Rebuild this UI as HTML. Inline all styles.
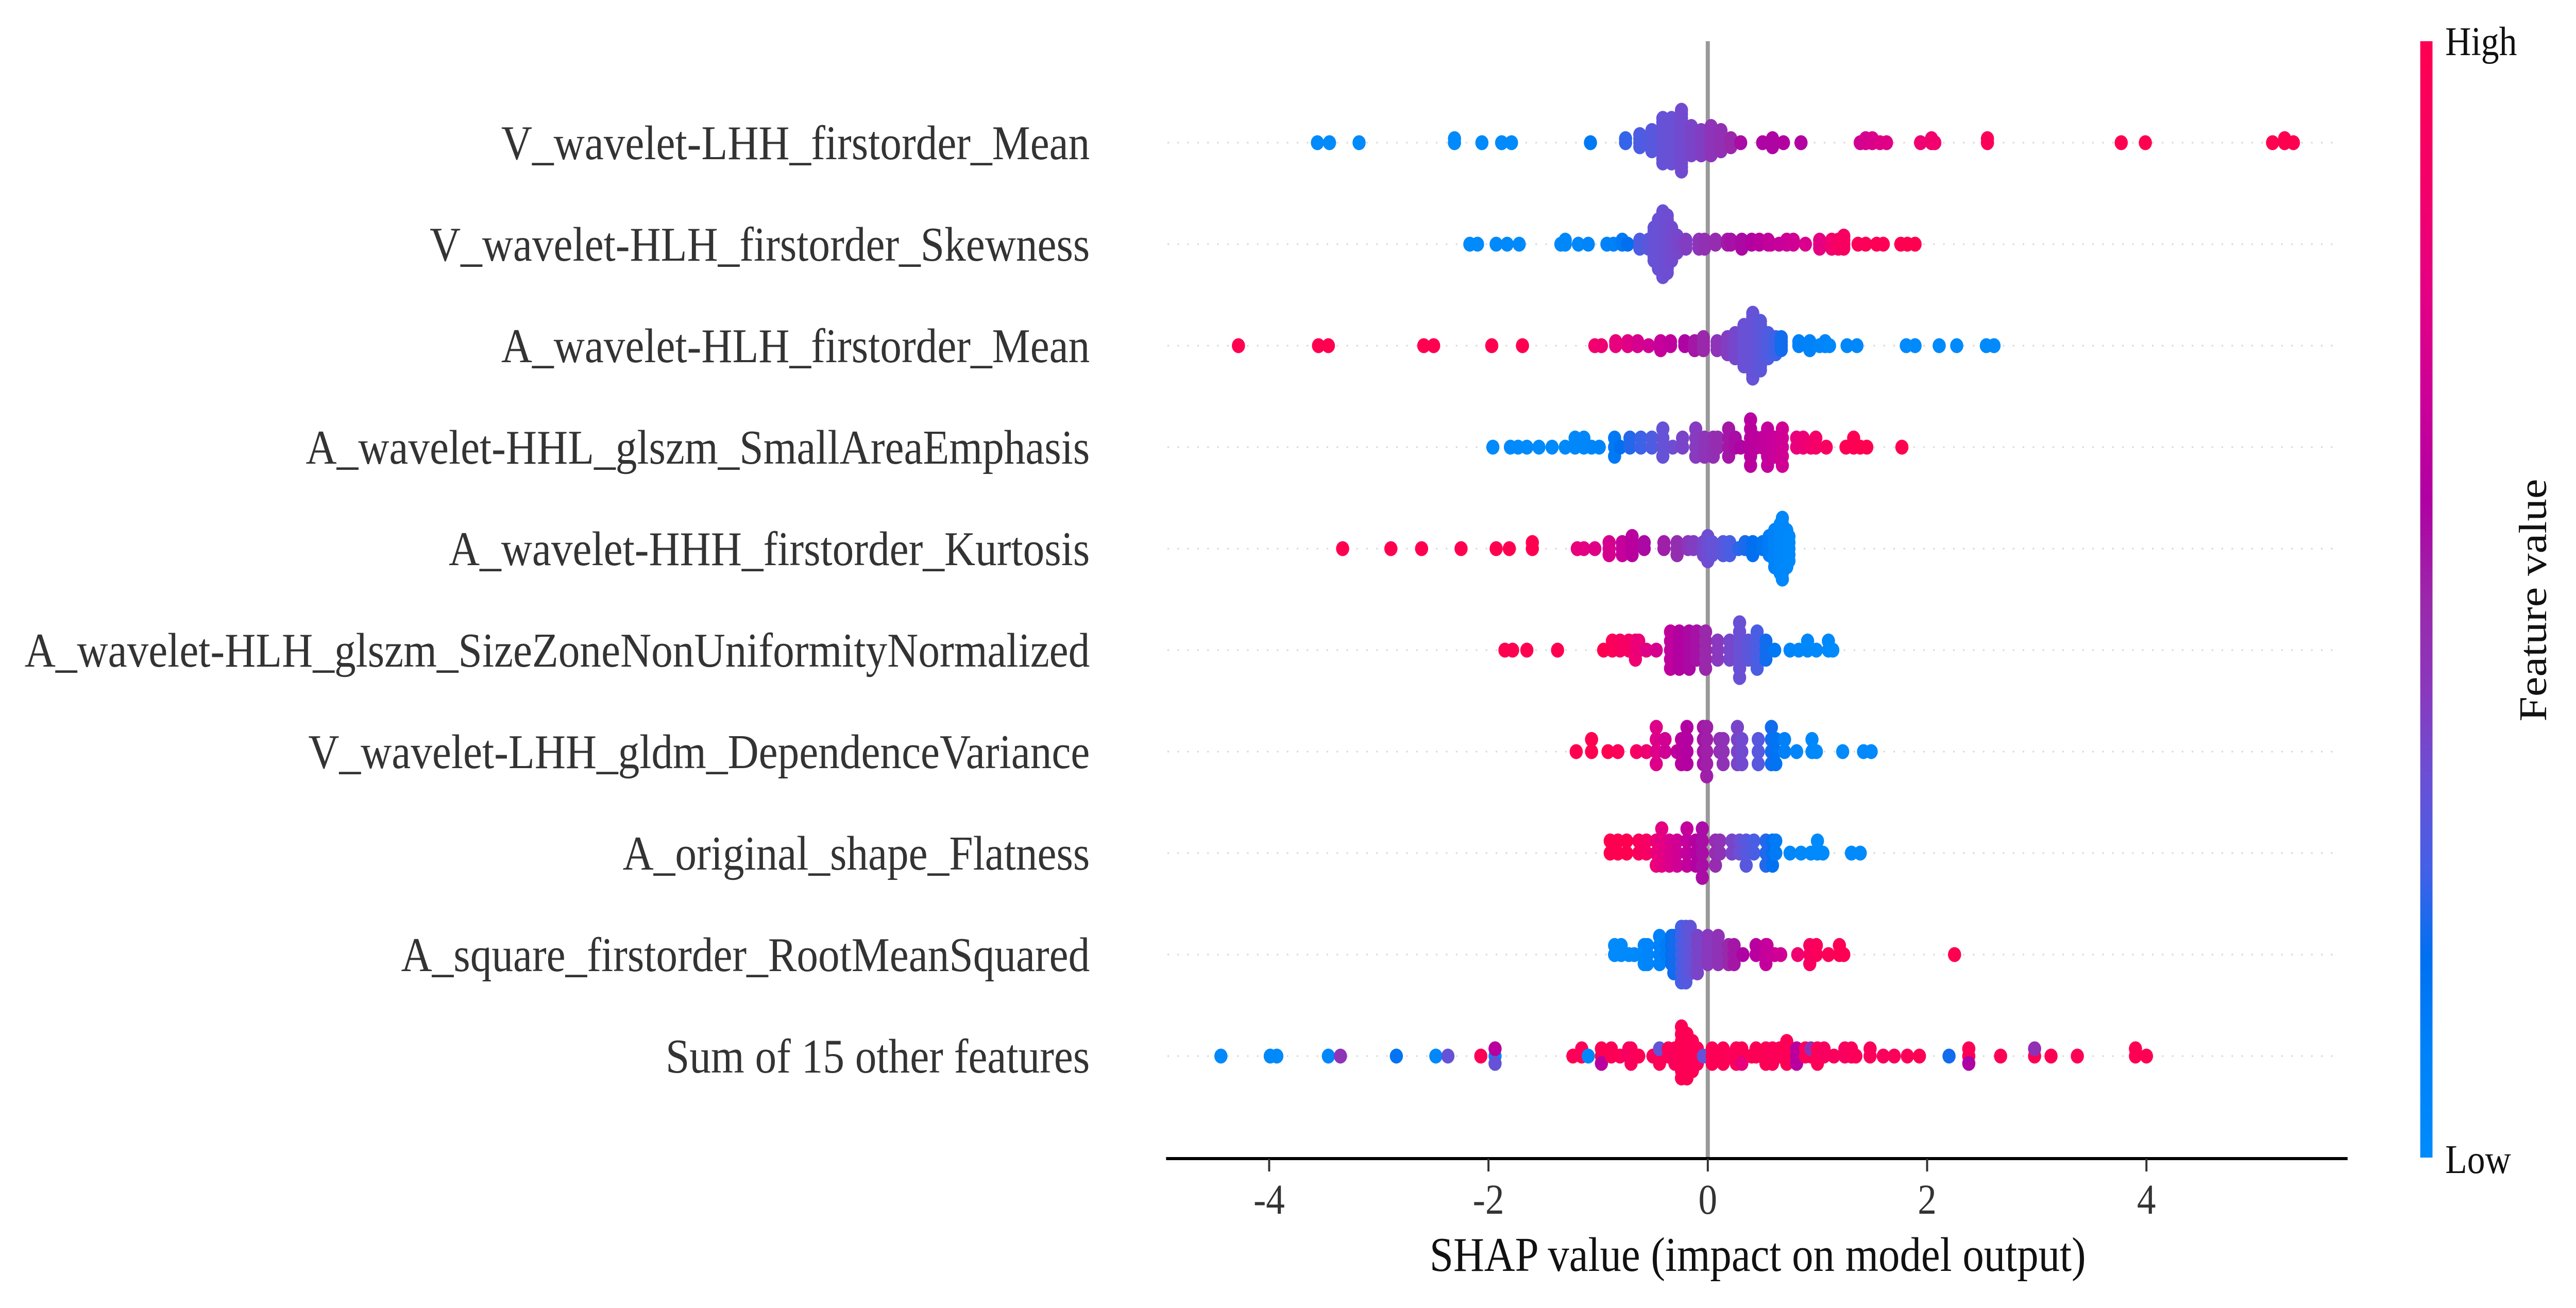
<!DOCTYPE html>
<html lang="en">
<head>
<meta charset="utf-8">
<title>SHAP beeswarm summary plot</title>
<style>
html,body{margin:0;padding:0;background:#fff;width:100%;height:100%;overflow:hidden;}
svg{display:block;position:absolute;left:0;top:0;width:100vw;height:100vh;font-family:"Liberation Serif","Times New Roman",serif;}
</style>
</head>
<body>
<svg id="chart" xmlns="http://www.w3.org/2000/svg" viewBox="0 0 5673 2539" preserveAspectRatio="none">
  <defs>
    <linearGradient id="cbarGrad" x1="0" y1="1" x2="0" y2="0"></linearGradient>
  </defs>
  <rect x="0" y="0" width="5673" height="2539" fill="#ffffff"></rect>
  <g id="rowLines"></g>
  <line x1="3761" y1="80" x2="3761" y2="2249" stroke="#999999" stroke-width="9"></line>
  <g id="dots"></g>
  <g id="rowLabels"></g>
  <line x1="2568" y1="2249" x2="5170" y2="2249" stroke="#000000" stroke-width="6"></line>
  <g id="xTicks"></g>
  <text x="3871" y="2467" font-size="94" text-anchor="middle" fill="#111111">SHAP value (impact on model output)</text>
  <rect x="5330" y="80" width="27" height="2167" fill="url(#cbarGrad)"></rect>
  <text x="5385" y="107" font-size="79" fill="#111111">High</text>
  <text x="5385" y="2277" font-size="79" fill="#111111">Low</text>
  <text x="0" y="0" font-size="87" text-anchor="middle" fill="#111111" transform="translate(5607 1165) rotate(-90)">Feature value</text>
</svg>
<script>
// Chart data: one SHAP value / feature value / sample count per swarm column
const featureNames = [
  "V_wavelet-LHH_firstorder_Mean",
  "V_wavelet-HLH_firstorder_Skewness",
  "A_wavelet-HLH_firstorder_Mean",
  "A_wavelet-HHL_glszm_SmallAreaEmphasis",
  "A_wavelet-HHH_firstorder_Kurtosis",
  "A_wavelet-HLH_glszm_SizeZoneNonUniformityNormalized",
  "V_wavelet-LHH_gldm_DependenceVariance",
  "A_original_shape_Flatness",
  "A_square_firstorder_RootMeanSquared",
  "Sum of 15 other features"
];
const xTickValues = [-4, -2, 0, 2, 4];
const xTickLabels = ["-4", "-2", "0", "2", "4"];

const r1Shap  = [-3.56,-3.45,-3.18,-2.31,-2.06,-1.88,-1.79,-1.07,-.75,-.62,-.51,-.41,-.33,-.24,-.15,-.06,.03,.12,.21,.30,.50,.59,.69,.85,1.39,1.44,1.50,1.57,1.63,1.94,2.04,2.07,2.55,3.77,3.99,5.15,5.26,5.34];
const r1Feat  = [.01,.01,.01,.01,.01,.01,.01,.14,.24,.28,.30,.33,.34,.36,.38,.40,.44,.46,.50,.56,.58,.58,.60,.60,.70,.72,.74,.76,.76,.84,.86,.86,.96,1,1,1,1,1];
const r1Count = [1,1,1,2,1,1,1,1,2,4,6,12,12,16,8,7,8,6,3,1,1,3,1,1,1,2,2,1,1,1,2,1,2,1,1,1,2,1];

const r2Shap  = [-2.17,-2.10,-1.93,-1.83,-1.72,-1.34,-1.30,-1.18,-1.09,-.92,-.86,-.78,-.73,-.62,-.54,-.49,-.45,-.41,-.37,-.33,-.28,-.25,-.20,-.08,-.03,.07,.18,.21,.31,.40,.47,.55,.575,.65,.72,.78,.89,1.02,1.13,1.19,1.24,1.37,1.44,1.54,1.60,1.76,1.82,1.89];
const r2Feat  = [.01,.01,.02,.02,.02,.02,.03,.04,.05,.08,.10,.14,.18,.28,.31,.33,.34,.34,.35,.36,.37,.38,.40,.44,.46,.48,.53,.55,.57,.60,.62,.64,.65,.66,.68,.70,.73,.78,.86,.90,.92,.96,.97,.98,.98,1,1,1];
const r2Count = [1,1,1,1,1,1,2,1,1,1,1,2,1,3,3,9,13,17,15,9,5,1,3,3,3,2,2,2,3,2,2,2,1,1,2,2,1,3,3,3,4,1,1,1,1,1,1,1];

const r3Shap  = [-4.28,-3.55,-3.46,-2.59,-2.50,-1.97,-1.69,-1.03,-.97,-.84,-.73,-.64,-.54,-.43,-.34,-.21,-.12,-.04,.085,.18,.25,.33,.41,.48,.55,.62,.67,.83,.93,1.02,1.07,1.11,1.27,1.36,1.81,1.89,2.11,2.27,2.54,2.61];
const r3Feat  = [1,1,1,1,1,1,1,.86,.84,.80,.76,.72,.70,.66,.64,.58,.54,.50,.44,.40,.37,.34,.33,.31,.28,.25,.20,.10,.08,.05,.05,.04,.03,.03,.01,.01,.01,.01,.01,.01];
const r3Count = [1,1,1,1,1,1,1,1,1,2,2,2,1,3,2,2,3,4,3,5,7,11,17,13,7,5,4,2,3,1,2,1,1,1,1,1,1,1,1,1];

const r4Shap  = [-1.96,-1.80,-1.73,-1.65,-1.54,-1.42,-1.30,-1.21,-1.13,-1.06,-.99,-.85,-.80,-.71,-.61,-.51,-.41,-.32,-.23,-.11,-.03,.05,.09,.19,.25,.30,.39,.44,.50,.545,.61,.68,.81,.87,.94,.985,1.08,1.26,1.33,1.39,1.45,1.77];
const r4Feat  = [.01,.01,.01,.01,.01,.02,.02,.03,.04,.05,.06,.14,.18,.22,.25,.28,.33,.35,.38,.41,.44,.46,.48,.54,.56,.58,.62,.63,.64,.65,.67,.70,.80,.83,.86,.88,.92,.98,.98,1,1,1];
const r4Count = [1,1,1,1,1,1,1,2,2,1,1,3,1,2,2,2,4,1,2,4,3,3,2,4,2,1,6,2,2,5,3,5,2,2,1,2,1,1,2,1,1,1];

const r5Shap  = [-3.33,-2.89,-2.61,-2.25,-1.93,-1.81,-1.60,-1.19,-1.13,-1.03,-.90,-.78,-.69,-.58,-.40,-.28,-.18,-.13,-.04,0,.04,.14,.20,.28,.34,.41,.50,.56,.61,.66,.68,.72,.74];
const r5Feat  = [1,1,1,1,1,1,1,.80,.78,.76,.72,.66,.62,.57,.52,.47,.43,.40,.37,.35,.33,.30,.27,.23,.21,.18,.15,.12,.08,.05,.04,.03,.02];
const r5Count = [1,1,1,1,1,1,2,1,1,1,3,3,4,2,2,3,2,2,3,5,3,3,3,1,2,3,2,4,7,9,11,7,5];

const r6Shap  = [-1.85,-1.78,-1.65,-1.37,-.95,-.87,-.80,-.72,-.66,-.63,-.56,-.47,-.34,-.26,-.17,-.10,-.02,.09,.20,.29,.37,.45,.53,.61,.75,.83,.91,.99,1.10,1.14];
const r6Feat  = [1,1,1,1,1,.97,.92,.90,.85,.82,.76,.72,.64,.60,.57,.55,.50,.42,.37,.34,.31,.27,.20,.14,.05,.04,.03,.02,.02,.01];
const r6Count = [1,1,1,1,1,2,2,2,3,2,1,1,5,5,5,4,5,3,3,7,3,5,3,1,1,1,2,1,2,1];

const r7Shap  = [-1.20,-1.06,-.91,-.82,-.65,-.56,-.47,-.39,-.28,-.24,-.19,-.04,-.01,.11,.14,.27,.31,.46,.58,.62,.70,.81,.95,.99,1.23,1.42,1.49];
const r7Feat  = [1,1,1,.97,.90,.85,.75,.70,.64,.62,.60,.55,.52,.46,.45,.38,.36,.30,.20,.16,.10,.05,.03,.02,.01,.01,.01];
const r7Count = [1,2,1,1,1,1,4,2,1,3,4,4,5,2,3,4,3,3,4,3,2,1,2,1,1,1,1];

const r8Shap  = [-.89,-.82,-.74,-.63,-.56,-.47,-.42,-.35,-.28,-.19,-.11,-.05,.07,.11,.22,.29,.35,.42,.53,.59,.62,.75,.85,.94,1.0,1.05,1.31,1.39];
const r8Feat  = [1,1,1,.94,.90,.82,.78,.74,.70,.65,.60,.56,.48,.45,.38,.34,.30,.27,.22,.17,.13,.03,.02,.02,.01,.01,.01,.01];
const r8Count = [2,2,2,2,2,3,4,3,3,4,3,5,3,2,2,2,3,2,3,3,2,1,1,1,2,1,1,1];

const r9Shap  = [-.85,-.79,-.72,-.67,-.58,-.55,-.44,-.38,-.33,-.31,-.24,-.20,-.16,-.095,0,.095,.19,.24,.32,.44,.53,.54,.61,.665,.82,.93,.99,1.10,1.20,1.24,2.25];
const r9Feat  = [.01,.01,.02,.02,.04,.05,.09,.12,.18,.20,.26,.29,.32,.38,.42,.45,.50,.54,.58,.62,.65,.66,.68,.70,.85,.92,.95,.97,.98,.99,1];
const r9Count = [2,2,1,1,3,3,4,2,4,5,7,7,6,5,4,4,3,3,1,2,3,2,1,1,1,3,2,1,2,1,1];

const r10Shap  = [-4.44,-3.99,-3.93,-3.46,-3.35,-2.84,-2.48,-2.37,-2.07,-1.94,-1.94,-1.94,-1.23,-1.15,-1.09,-.97,-.97,-.88,-.80,-.72,-.70,-.63,-.50,-.44,-.44,-.44,-.36,-.30,-.24,-.19,-.14,-.095,-.04,.04,.14,.21,.26,.31,.31,.40,.44,.53,.59,.655,.72,.81,.89,.94,.94,1.0,1.06,1.15,1.25,1.31,1.35,1.48,1.60,1.70,1.82,1.93,2.20,2.38,2.38,2.67,2.98,2.98,3.13,3.37,3.90,4.00];
const r10Feat  = [.02,.02,.02,.03,.44,.16,.03,.33,.98,.03,.62,.33,.98,.97,.03,.99,.62,.98,.97,.86,.95,.98,.96,.97,.32,.97,.96,.95,.98,.99,.98,.97,.33,.98,.98,.97,.96,.98,.80,.97,.98,.98,.96,.98,.98,.62,.95,.96,.46,.97,.92,.94,.92,.95,.96,.95,.94,.95,.96,.99,.20,.98,.58,.98,.99,.46,.99,.98,.99,.99];
const r10Count = [1,1,1,1,1,1,1,1,1,1,1,1,1,2,1,2,1,2,1,2,3,1,1,1,1,1,2,3,8,7,5,3,1,3,3,1,3,2,1,1,2,3,3,2,4,3,2,1,1,3,2,1,2,2,1,2,1,1,1,1,1,2,1,1,1,1,1,1,2,1];

const rowShaps  = [r1Shap, r2Shap, r3Shap, r4Shap, r5Shap, r6Shap, r7Shap, r8Shap, r9Shap, r10Shap];
const rowFeats  = [r1Feat, r2Feat, r3Feat, r4Feat, r5Feat, r6Feat, r7Feat, r8Feat, r9Feat, r10Feat];
const rowCounts = [r1Count, r2Count, r3Count, r4Count, r5Count, r6Count, r7Count, r8Count, r9Count, r10Count];

// Colour scale: feature value to colour
const cmapStops  = [0, .10, .18, .26, .34, .42, .50, .59, .68, .78, .88, 1];
const cmapColors = [[0,139,251],[0,129,248],[0,112,240],[69,96,230],[106,80,213],[138,56,189],[154,40,170],[176,0,162],[204,0,152],[229,0,130],[245,0,104],[255,0,81]];

const SVG_NS = "http://www.w3.org/2000/svg";

function xScale(value) { return 3761 + value * 241.5; }
function rowY(index) { return 277 + index * 197; }
function colorFor(f) {
  const v = Math.max(0, Math.min(1, f));
  let k = 0;
  while (k < cmapStops.length - 2 && v > cmapStops[k + 1]) k++;
  const t = (v - cmapStops[k]) / (cmapStops[k + 1] - cmapStops[k]);
  const a = cmapColors[k], b = cmapColors[k + 1];
  return "rgb(" + Math.round(a[0] + (b[0] - a[0]) * t) + "," + Math.round(a[1] + (b[1] - a[1]) * t) + "," + Math.round(a[2] + (b[2] - a[2]) * t) + ")";
}

// Colorbar gradient
const grad = document.getElementById("cbarGrad");
cmapStops.forEach(function (s) {
  const stop = document.createElementNS(SVG_NS, "stop");
  stop.setAttribute("offset", s);
  stop.setAttribute("stop-color", colorFor(s));
  grad.appendChild(stop);
});

// Row guides and feature labels
const linesGroup = document.getElementById("rowLines");
const labelsGroup = document.getElementById("rowLabels");
featureNames.forEach(function (name, i) {
  const guide = document.createElementNS(SVG_NS, "line");
  
  
  guide.setAttribute("x1", 2571);
  guide.setAttribute("x2", 5150);
  guide.setAttribute("y1", rowY(i));
  guide.setAttribute("y2", rowY(i));
  guide.setAttribute("stroke", "#d6d6d6");
  guide.setAttribute("stroke-width", 3);
  guide.setAttribute("stroke-dasharray", "3.5 18.4");
  linesGroup.appendChild(guide);

  const label = document.createElementNS(SVG_NS, "text");
  
  
  label.setAttribute("x", 2400);
  label.setAttribute("y", rowY(i) + 32);
  label.setAttribute("text-anchor", "end");
  label.setAttribute("font-size", 94.5);
  label.setAttribute("fill", "#333333");
  label.textContent = name;
  labelsGroup.appendChild(label);
});

// Swarm: samples sharing a SHAP value stack alternately up and down the row
const dotsGroup = document.getElementById("dots");
rowShaps.forEach(function (shaps, r) {
  const layers = new Map();
  const pts = [];
  let maxUp = 0;
  shaps.forEach(function (s, i) {
    const n = rowCounts[r][i] === undefined ? 1 : rowCounts[r][i];
    const f = rowFeats[r][i] === undefined ? 0.5 : rowFeats[r][i];
    for (let c = 0; c < n; c++) {
      const layer = layers.get(s) || 0;
      const level = Math.ceil(layer / 2) * ((layer % 2) * 2 - 1);
      layers.set(s, layer + 1);
      if (level > maxUp) maxUp = level;
      pts.push({ s: s, f: f, level: level });
    }
  });
  const step = 70.9 / (maxUp + 1);
  pts.forEach(function (p) {
    const dot = document.createElementNS(SVG_NS, "circle");
    
    
    dot.setAttribute("cx", xScale(p.s));
    dot.setAttribute("cy", rowY(r) - p.level * step);
    dot.setAttribute("r", 14.5);
    dot.setAttribute("fill", colorFor(p.f));
    dotsGroup.appendChild(dot);
  });
});

// X axis ticks
const ticksGroup = document.getElementById("xTicks");
xTickValues.forEach(function (v, i) {
  const tick = document.createElementNS(SVG_NS, "line");
  
  
  tick.setAttribute("x1", xScale(v));
  tick.setAttribute("x2", xScale(v));
  tick.setAttribute("y1", 2249);
  tick.setAttribute("y2", 2274);
  tick.setAttribute("stroke", "#333333");
  tick.setAttribute("stroke-width", 4.5);
  ticksGroup.appendChild(tick);

  const text = document.createElementNS(SVG_NS, "text");
  
  
  text.setAttribute("x", xScale(v));
  text.setAttribute("y", 2356);
  text.setAttribute("text-anchor", "middle");
  text.setAttribute("font-size", 83);
  text.setAttribute("fill", "#333333");
  text.textContent = xTickLabels[i];
  ticksGroup.appendChild(text);
});
</script>
</body>
</html>
